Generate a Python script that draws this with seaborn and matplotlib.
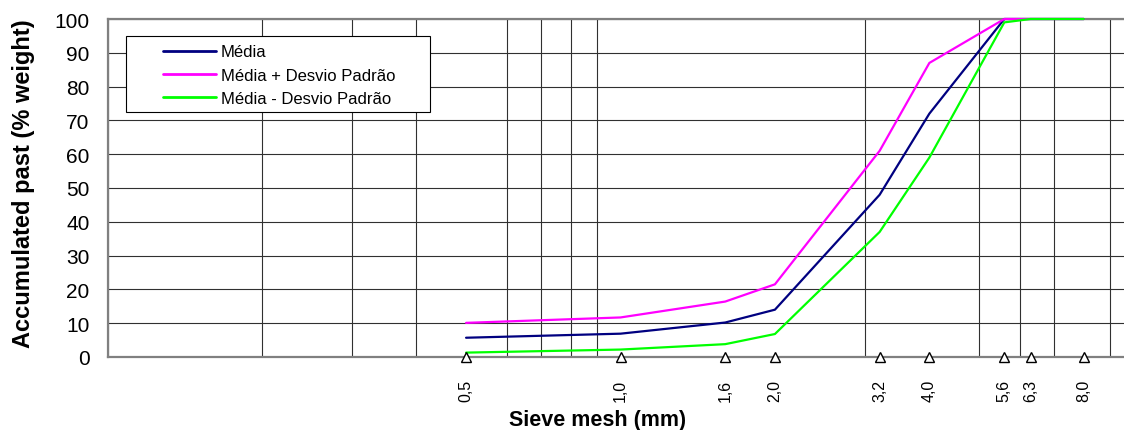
import matplotlib
matplotlib.use('Agg')
import pandas as pd
import matplotlib.pyplot as plt
import seaborn as sns
from matplotlib.ticker import LogLocator, FixedLocator, FixedFormatter, NullFormatter
from matplotlib.patches import Rectangle

# Peneiras (mm) e curvas granulométricas
peneiras = [0.5, 1.0, 1.6, 2.0, 3.2, 4.0, 5.6, 6.3, 8.0]
rotulos = ['0,5', '1,0', '1,6', '2,0', '3,2', '4,0', '5,6', '6,3', '8,0']
media = [5.7, 6.9, 10.2, 14.0, 48.0, 72.0, 100, 100, 100]
media_mais_dp = [10.1, 11.7, 16.4, 21.5, 61.0, 87.0, 100, 100, 100]
media_menos_dp = [1.3, 2.2, 3.8, 6.8, 37.0, 59.0, 99.0, 100, 100]

series = ['Média', 'Média + Desvio Padrão', 'Média - Desvio Padrão']
cores = {'Média': '#000080', 'Média + Desvio Padrão': '#FF00FF', 'Média - Desvio Padrão': '#00FF00'}

df = pd.DataFrame({
    'peneira': peneiras * 3,
    'passante': media + media_mais_dp + media_menos_dp,
    'serie': [series[0]] * 9 + [series[1]] * 9 + [series[2]] * 9,
})

sns.set_style('white')
plt.rcParams['font.family'] = ['Liberation Sans', 'DejaVu Sans']
plt.rcParams['text.color'] = 'black'
plt.rcParams['axes.labelcolor'] = 'black'
plt.rcParams['xtick.color'] = 'black'
plt.rcParams['ytick.color'] = 'black'

fig = plt.figure(figsize=(11.24, 4.31), dpi=100)
ax = fig.add_axes([107.5 / 1124, 73 / 431, 1026 / 1124, 338 / 431])

sns.lineplot(data=df, x='peneira', y='passante', hue='serie', hue_order=series,
             palette=cores, linewidth=1.6, ax=ax, legend=False, zorder=6, sort=True)
for linha in ax.get_lines():
    linha.set_clip_on(False)

ax.set_xscale('log')
ax.set_xlim(0.1, 10)
ax.set_ylim(0, 100)

# grade: linhas em todos os valores 1..9 de cada década
ax.xaxis.set_minor_locator(LogLocator(base=10, subs=range(1, 10), numticks=20))
ax.xaxis.set_minor_formatter(NullFormatter())
ax.xaxis.set_major_locator(FixedLocator(peneiras))
ax.xaxis.set_major_formatter(FixedFormatter(rotulos))
ax.grid(False)
ax.grid(which='minor', axis='x', color='#303030', linewidth=0.8)
ax.grid(which='major', axis='y', color='#303030', linewidth=0.8)
ax.set_axisbelow(True)

ax.set_yticks(range(0, 101, 10))
ax.tick_params(axis='y', direction='in', length=4, width=0.8, color='#303030',
               labelsize=15, pad=13)
ax.tick_params(axis='x', which='both', length=0, labelsize=11.5, labelrotation=90, pad=16)

# marcadores triangulares das peneiras no eixo
ax.plot(peneiras, [0] * len(peneiras), linestyle='none', marker='^', markersize=7.5,
        markerfacecolor='white', markeredgecolor='black', markeredgewidth=1,
        clip_on=False, zorder=10)

for lado in ['left', 'bottom', 'top', 'right']:
    ax.spines[lado].set_color('#808080')
    ax.spines[lado].set_linewidth(1.6)
    ax.spines[lado].set_visible(True)

ax.set_xlabel('Sieve mesh (mm)', fontsize=15.5, fontweight='bold')
ax.set_ylabel('Accumulated past (% weight)', fontsize=17, fontweight='bold')
ax.xaxis.set_label_coords(0.478, -0.154)
ax.yaxis.set_label_coords(-0.071, 0.516)

# caixa da legenda
ax.add_patch(Rectangle((0.018, 0.7249), 0.2963, 0.2249, transform=ax.transAxes,
                       facecolor='white', edgecolor='black', linewidth=0.8, zorder=4))
handles = [plt.Line2D([], [], color=cores[s], linewidth=2) for s in series]
leg = ax.legend(handles, series, loc='upper left', bbox_to_anchor=(0.0541, 0.925),
                frameon=False, fontsize=12, borderpad=0, borderaxespad=0,
                handlelength=3.2, handletextpad=0.25, labelspacing=0.5)
leg.set_zorder(7)

fig.savefig('out.png', dpi=100)
